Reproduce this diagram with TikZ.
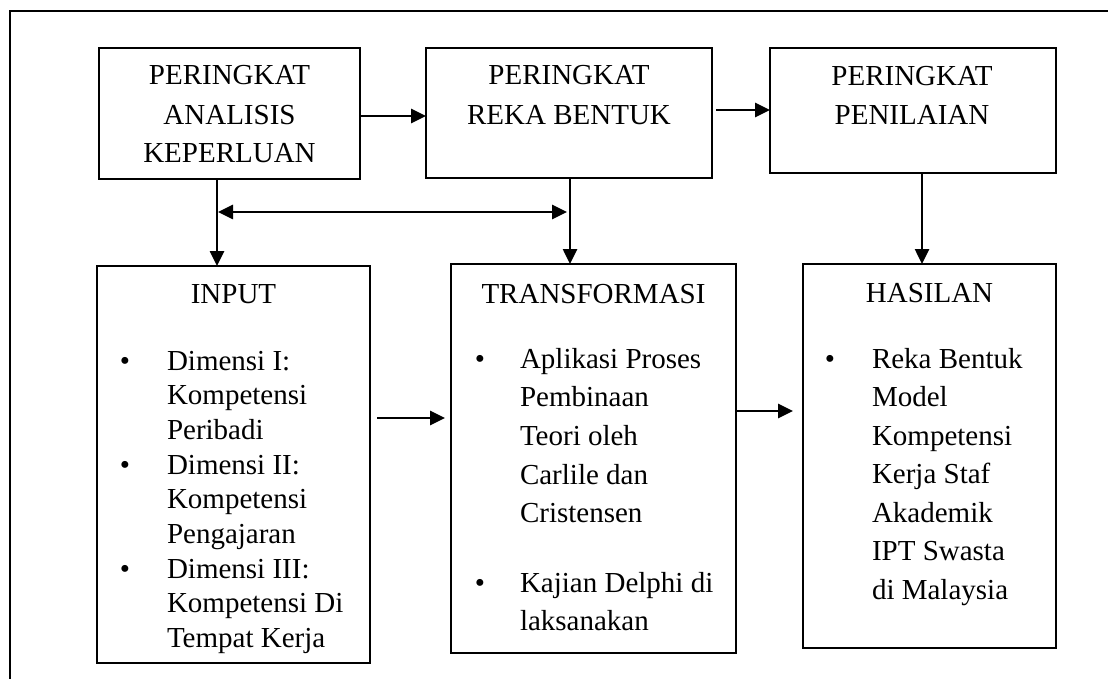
\documentclass[tikz,border=0pt]{standalone}
\usepackage{fontspec}
\setmainfont{Liberation Serif}
\usetikzlibrary{arrows.meta}
\begin{document}
\begin{tikzpicture}[x=1pt,y=-1pt,
  box/.style={draw, line width=2pt, inner sep=0pt, outer sep=0pt},
  txt/.style={inner sep=0pt, outer sep=0pt, font=\fontsize{29}{35}\selectfont},
  tip/.tip={Triangle[length=15pt,width=14pt]},
  arr/.style={line width=2.6pt, -tip},
  darr/.style={line width=2.6pt, tip-tip},
]
\useasboundingbox (0,0) rectangle (1108,679);

% outer frame (left and top edges)
\draw[line width=2.6pt] (10,679) -- (10,11) -- (1108,11);

% stage boxes (top row)
\node[box, minimum width=261pt, minimum height=131pt] (A) at (229.5,113.5) {};
\node[box, minimum width=286pt, minimum height=130pt] (B) at (569,113) {};
\node[box, minimum width=286pt, minimum height=125pt] (C) at (913,110.5) {};

% process boxes (bottom row)
\node[box, minimum width=273pt, minimum height=397pt] (D) at (233.5,464.5) {};
\node[box, minimum width=285pt, minimum height=389pt] (E) at (593.5,458.5) {};
\node[box, minimum width=253pt, minimum height=384pt] (F) at (929.5,456) {};

% top row labels
\foreach \yy/\t [count=\i] in {85/PERINGKAT,124.5/ANALISIS,163/KEPERLUAN}
  \node[txt, anchor=base] (A-\i) at (229.5,\yy) {\t};
\foreach \yy/\t [count=\i] in {85/PERINGKAT,125/REKA BENTUK}
  \node[txt, anchor=base] (B-\i) at (569,\yy) {\t};
\foreach \yy/\t [count=\i] in {85.5/PERINGKAT,125/PENILAIAN}
  \node[txt, anchor=base] (C-\i) at (912,\yy) {\t};

% INPUT
\node[txt, anchor=base] (D-t) at (233.5,303) {INPUT};
\foreach \yy/\t [count=\i] in {370/Dimensi I:,404.6/Kompetensi,439/Peribadi,
    474/Dimensi II:,508.5/Kompetensi,543/Pengajaran,
    578/Dimensi III:,612.5/Kompetensi Di,647/Tempat Kerja}
  \node[txt, anchor=base west] (D-\i) at (167,\yy) {\t};
\foreach \yy [count=\i] in {370,474,578}
  \node[txt, anchor=base] (D-b\i) at (125,\yy) {•};

% TRANSFORMASI
\node[txt, anchor=base] (E-t) at (593.5,303) {TRANSFORMASI};
\foreach \yy/\t [count=\i] in {368/Aplikasi Proses,406.5/Pembinaan,445/Teori oleh,
    484/Carlile dan,522/Cristensen,592/Kajian Delphi di,630/laksanakan}
  \node[txt, anchor=base west] (E-\i) at (520,\yy) {\t};
\foreach \yy [count=\i] in {368,592}
  \node[txt, anchor=base] (E-b\i) at (480,\yy) {•};

% HASILAN
\node[txt, anchor=base] (F-t) at (929.5,302) {HASILAN};
\foreach \yy/\t [count=\i] in {368/Reka Bentuk,406.5/Model,445/Kompetensi,
    483.5/Kerja Staf,522/Akademik,560.5/IPT Swasta,599/di Malaysia}
  \node[txt, anchor=base west] (F-\i) at (872,\yy) {\t};
\node[txt, anchor=base] (F-b1) at (830,368) {•};

% connector guide positions
\coordinate (yAB) at (0,116);
\coordinate (yBC) at (0,110);
\coordinate (xA) at (217,0);
\coordinate (xB) at (570,0);
\coordinate (xC) at (922,0);
\coordinate (yH) at (0,212);
\coordinate (yDE) at (0,418);
\coordinate (yEF) at (0,411);

% connectors
\draw[arr] (A.east |- yAB) -- (B.west |- yAB);
\draw[arr, shorten <=4pt] (B.east |- yBC) -- (C.west |- yBC);
\draw[arr] (A.south -| xA) -- (D.north -| xA);
\draw[arr] (B.south -| xB) -- (E.north -| xB);
\draw[arr] (C.south -| xC) -- (F.north -| xC);
\draw[darr, shorten <=1pt, shorten >=3pt] (xA |- yH) -- (xB |- yH);
\draw[arr, shorten <=7pt, shorten >=6pt] (D.east |- yDE) -- (E.west |- yDE);
\draw[arr, shorten >=10pt] (E.east |- yEF) -- (F.west |- yEF);
\end{tikzpicture}
\end{document}
